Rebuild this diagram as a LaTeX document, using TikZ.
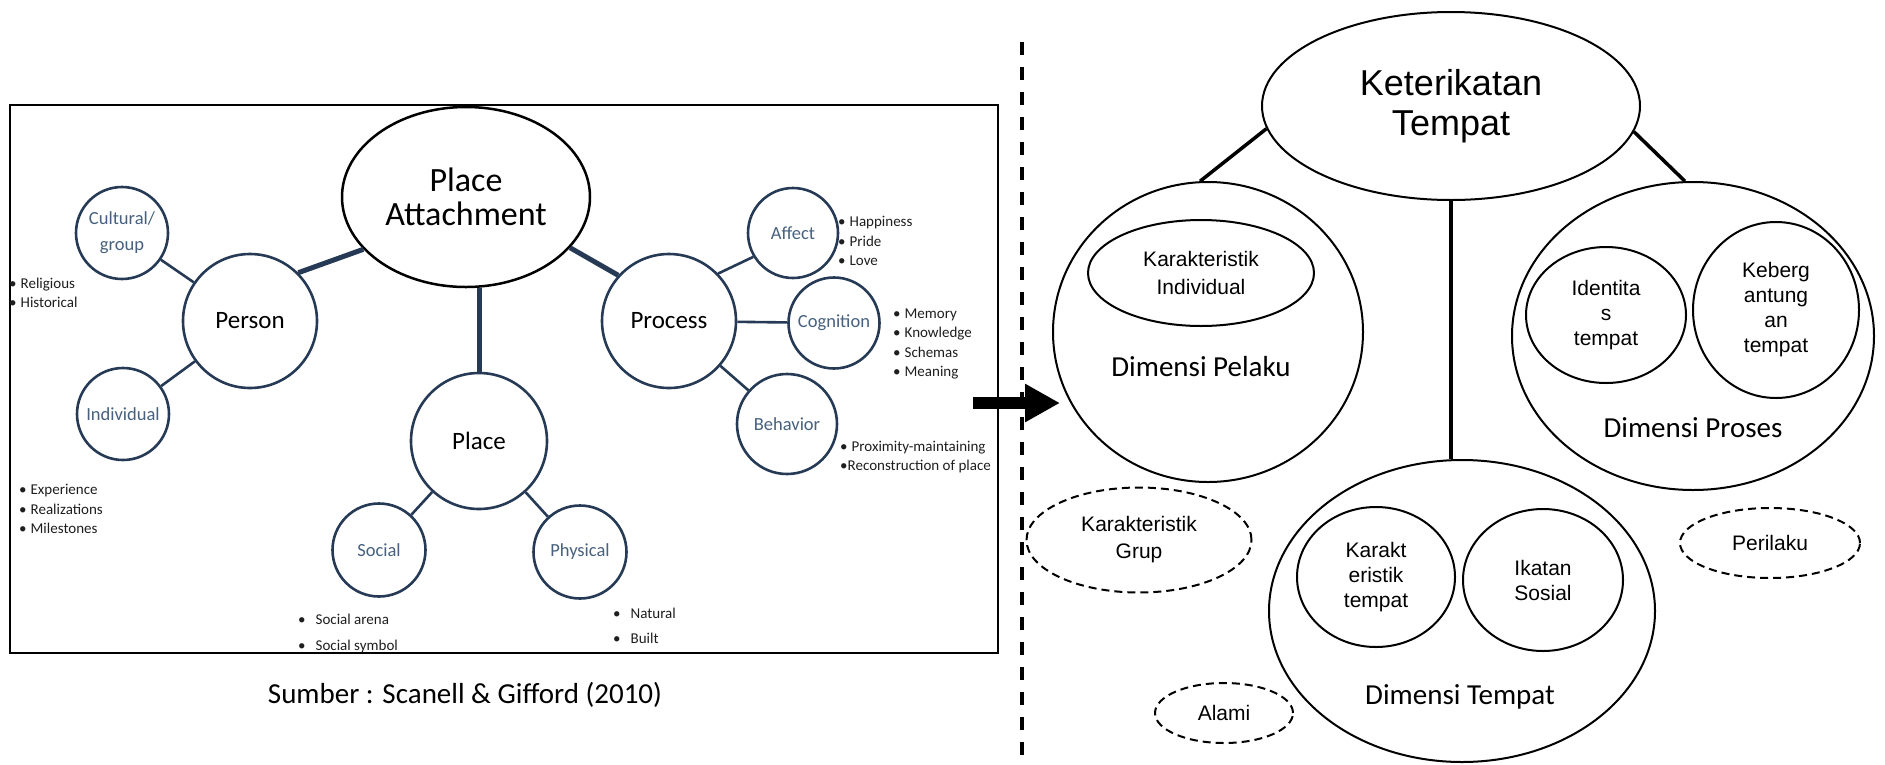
\documentclass[tikz,border=0pt]{standalone}
\usepackage{fontspec}
\newfontfamily\cfont{Carlito}
\newfontfamily\afont{Liberation Sans}
\usetikzlibrary{arrows.meta, positioning, shapes.geometric}
\definecolor{navy}{RGB}{38,58,86}
\definecolor{subtxt}{RGB}{70,96,126}
\definecolor{bultxt}{RGB}{30,30,30}
\newcommand{\bulx}{\textbullet\hspace{4pt}}
\newcommand{\bulw}{\textbullet\hspace{10pt}}

\begin{document}
\begin{tikzpicture}[x=1pt, y=-1pt,
    lsub/.style={circle, draw=navy, line width=2.6pt, inner sep=0pt, align=center, text=subtxt, font=\cfont\fontsize{18.5}{26}\selectfont},
    lmain/.style={lsub, text=black, font=\cfont\fontsize{25}{30}\selectfont},
    lthin/.style={draw=navy, line width=2.6pt},
    lthick/.style={draw=navy, line width=5pt},
    blist/.style={anchor=west, align=left, inner sep=0pt, text=bultxt, font=\cfont\fontsize{15}{19.5}\selectfont},
    rdim/.style={ellipse, draw, line width=2pt, inner sep=0pt},
    rsub/.style={rdim, align=center, font=\afont\fontsize{21}{25}\selectfont},
    rdash/.style={rsub, dash pattern=on 8pt off 5pt},
    rlink/.style={line width=3.5pt},
    dimlbl/.style={font=\cfont\fontsize{29}{34}\selectfont}]

    \useasboundingbox (0,0) rectangle (1885,764);

    % left: original model
    \draw[line width=2.5pt] (10,105) rectangle (998,653);
    \node[ellipse, draw, line width=2.5pt, minimum width=248pt, minimum height=180pt, inner sep=0pt, align=center, font=\cfont\fontsize{34}{34}\selectfont] (pa) at (466,197) {Place\\Attachment};
    \node[lmain, minimum size=134pt] (person) at (250,321) {Person};
    \node[lmain, minimum size=134pt] (process) at (669,321) {Process};
    \node[lmain, minimum size=136pt] (place) at (479,441) {Place};
    \node[lsub, minimum size=92pt] (cultural) at (122,233) {Cultural/\\group};
    \node[lsub, minimum size=92pt] (individual) at (123,414) {Individual};
    \node[lsub, minimum size=90pt] (affect) at (793,233) {Affect};
    \node[lsub, minimum size=91pt] (cognition) at (834,323) {Cognition};
    \node[lsub, minimum size=100pt] (behavior) at (787,424) {Behavior};
    \node[lsub, minimum size=93pt] (social) at (379,550) {Social};
    \node[lsub, minimum size=93pt] (physical) at (580,552) {Physical};

    \draw[lthick] (pa.207) -- (person.45);
    \draw[lthick] (pa.334) -- (process.138);
    \draw[lthick] (place.north |- pa.south) -- (place.north);
    \draw[lthin] (person) -- (cultural);
    \draw[lthin] (person) -- (individual);
    \draw[lthin] (process.44) -- (affect.211);
    \draw[lthin] (process) -- (cognition);
    \draw[lthin] (process) -- (behavior);
    \draw[lthin] (place) -- (social);
    \draw[lthin] (place) -- (physical);

    \node[blist] (religl) at (9,293) {\bulx Religious\\\bulx Historical};
    \node[blist] (experl) at (19,509) {\bulx Experience\\\bulx Realizations\\\bulx Milestones};
    \node[blist] (affectl) at (838,241) {\bulx Happiness\\\bulx Pride\\\bulx Love};
    \node[blist] (cognl) at (893,344) {\bulx Memory\\\bulx Knowledge\\\bulx Schemas\\\bulx Meaning};
    \node[blist] (behavl) at (840,457) {\bulx Proximity-maintaining\\\textbullet Reconstruction of place};
    \node[blist, font=\cfont\fontsize{15}{26}\selectfont] (sociall) at (298,633) {\bulw Social arena\\\bulw Social symbol};
    \node[blist, font=\cfont\fontsize{15}{25}\selectfont] (physl) at (613,626) {\bulw Natural\\\bulw Built};

    \node[font=\cfont\fontsize{29}{34}\selectfont] (src) at (465,695) {Sumber : Scanell \& Gifford (2010)};

    % divider and arrow
    \coordinate (divtop) at (1022,42);
    \coordinate (divbot) at (1022,764);
    \draw[line width=4pt, dash pattern=on 13pt off 12pt] (divtop) -- (divbot);
    \coordinate (arrs) at (973,403);
    \coordinate (arre) at (1060,403);
    \draw[line width=12pt, -{Triangle[length=35pt, width=36pt]}] (arrs) -- (arre);

    % right: adapted model
    \node[rdim, minimum width=378pt, minimum height=188pt, align=center, font=\afont\fontsize{36}{40}\selectfont] (ket) at (1451,106) {Keterikatan\\Tempat};
    \node[rdim, minimum width=310pt, minimum height=300pt] (pelaku) at (1208,332) {};
    \node[rdim, minimum width=362pt, minimum height=308pt] (proses) at (1693,336) {};
    \node[rdim, minimum width=386pt, minimum height=302pt] (tempatdim) at (1462,611) {};

    \node[rsub, minimum width=226pt, minimum height=106pt, font=\afont\fontsize{21}{28}\selectfont] (karind) at (1201,273) {Karakteristik\\Individual};
    \node[rsub, minimum width=160pt, minimum height=136pt] (identitas) at (1606,315) {Identita\\s\\tempat};
    \node[rsub, minimum width=166pt, minimum height=176pt] (keberg) at (1776,310) {Keberg\\antung\\an\\tempat};
    \node[rsub, minimum width=158pt, minimum height=140pt] (karakt) at (1376,577) {Karakt\\eristik\\tempat};
    \node[rsub, minimum width=160pt, minimum height=142pt] (ikatan) at (1543,580) {Ikatan\\Sosial};
    \node[rdash, minimum width=225pt, minimum height=105pt, font=\afont\fontsize{21}{27}\selectfont] (kargrup) at (1139,540) {Karakteristik\\Grup};
    \node[rdash, minimum width=180pt, minimum height=70pt] (perilaku) at (1770,543) {Perilaku};
    \node[rdash, minimum width=138pt, minimum height=60pt] (alami) at (1224,713) {Alami};

    \node[dimlbl, below=26pt of karind] (pelakulbl) {Dimensi Pelaku};
    \node[dimlbl] (proseslbl) at (1693,428) {Dimensi Proses};
    \node[dimlbl] (tempatlbl) at (1460,697) {Dimensi Tempat};

    \draw[rlink] (ket.187) -- (pelaku.93);
    \draw[rlink] (ket.352) -- (proses.93);
    \draw[rlink] (ket.south) -- (ket.south |- tempatdim.north);
\end{tikzpicture}
\end{document}
